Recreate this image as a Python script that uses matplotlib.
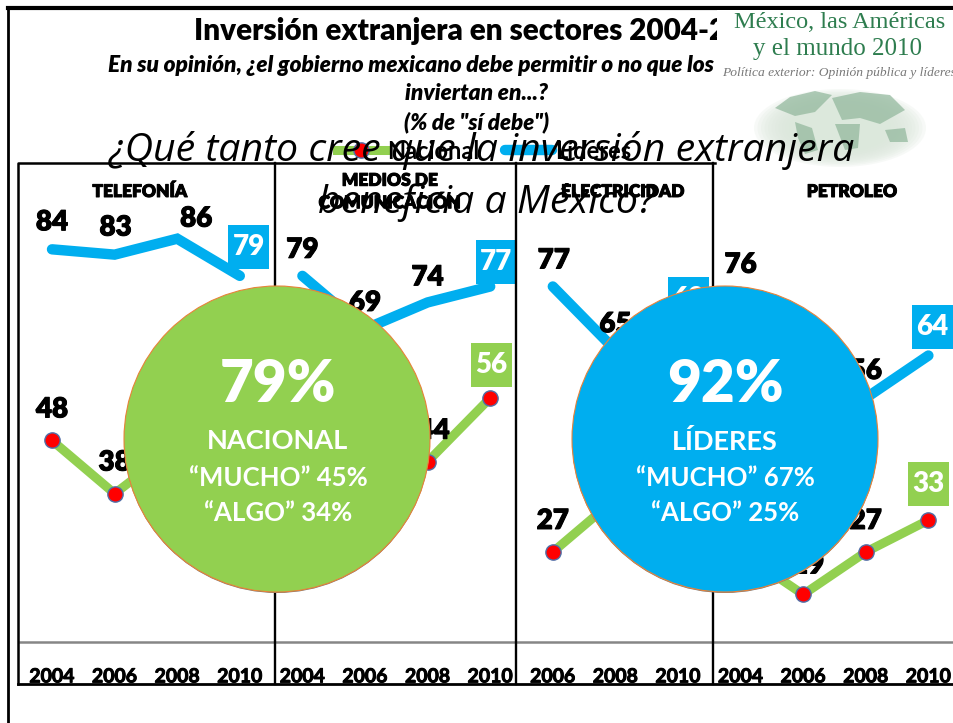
import matplotlib
matplotlib.use('Agg')
import matplotlib.pyplot as plt
import matplotlib.patheffects as pe
from matplotlib.patches import Circle, Ellipse, Polygon, Rectangle
from matplotlib.transforms import IdentityTransform

# values, the ones behind the circles are estimates
years = ['2004','2006','2008','2010','2004','2006','2008','2010','2006','2008','2010','2004','2006','2008','2010']
panel_idx = [[0,1,2,3],[4,5,6,7],[8,9,10],[11,12,13,14]]
panel_names = ['TELEFONÍA','MEDIOS DE\nCOMUNICACIÓN','ELECTRICIDAD','PETROLEO']
lideres = [[84,83,86,79],[79,69,74,77],[77,65,69],[76,62,56,64]]
nacional = [[48,38,47,44],[37,33,44,56],[27,37,36],[27,19,27,33]]

# label offsets in pixels (dx, dy, y down), last label of each series sits in a box
lid_off = [[(0,-27),(1,-27),(19,-20),(9,-29)],[(0,-26),(0,-26),(0,-25),(6,-24)],[(1,-26),(0,-26),(10,-30)],[(0,-27),(0,-27),(0,-27),(4,-29)]]
nac_off = [[(0,-31),(0,-31),(0,-26),(0,-26)],[(0,-26),(0,-26),(6,-31),(1,-33)],[(0,-31),(0,-26),(0,-26)],[(0,-26),(5,-29),(0,-31),(0,-36)]]

BLUE = '#00AEEF'
GREEN = '#92D050'
W, H = 954, 723
thick = [pe.withStroke(linewidth=0.7, foreground='black')]

plt.rcParams['font.family'] = ['Lato', 'DejaVu Sans']
fig = plt.figure(figsize=(W/100, H/100), dpi=100, facecolor='white')

# chart axes, 1 category = 62.6 px, 1 unit = 5.31 px
ax = fig.add_axes([20/W, (H-642)/H, (W-20)/W, (642-163)/H])
ax.set_xlim((20-52)/62.6, (W-52)/62.6)
ax.set_ylim(10.05, 10.05+(642-163)/5.31)
ax.patch.set_alpha(0)
for s in ['top','left','right']:
    ax.spines[s].set_visible(False)
ax.spines['bottom'].set_color('#868686')
ax.spines['bottom'].set_linewidth(1.8)
ax.set_yticks([])
ax.set_xticks(range(len(years)))
ax.set_xticklabels(years, fontsize=14, fontweight='bold', color='black', path_effects=thick)
ax.tick_params(axis='x', length=0, pad=19)


def add_labels(xs, vals, offs, box):
    for i, (x, v, o) in enumerate(zip(xs, vals, offs)):
        last = i == len(vals)-1
        if last:
            px, py = ax.transData.transform((x, v))
            ax.add_patch(Rectangle((px+o[0]-20.5, py-o[1]-22), 41, 44, fc=box, ec='none', zorder=5,
                                   transform=IdentityTransform(), clip_on=False))
        ax.annotate(str(v), (x, v), xytext=(o[0]*0.72, -o[1]*0.72), textcoords='offset points',
                    ha='center', va='center', fontsize=20, fontweight='heavy', color='white' if last else 'black',
                    zorder=6, annotation_clip=False, path_effects=None if last else thick)


for p, xs in enumerate(panel_idx):
    ax.plot(xs, lideres[p], color=BLUE, lw=7.5, solid_capstyle='round', solid_joinstyle='miter', zorder=3,
            label='Líderes' if p == 0 else None, clip_on=False)
    ax.plot(xs, nacional[p], color=GREEN, lw=6.5, marker='o', ms=11, mfc='#FF0000', mec='#4F6FA8', mew=1, zorder=4,
            label='Nacional' if p == 0 else None, clip_on=False)
    add_labels(xs, lideres[p], lid_off[p], BLUE)
    add_labels(xs, nacional[p], nac_off[p], GREEN)

h, l = ax.get_legend_handles_labels()
ax.legend(h[::-1], l[::-1], ncols=2, frameon=False, loc='center', bbox_to_anchor=(0.497, 1.025),
          prop=dict(weight='bold', size=17), handlelength=2.0, columnspacing=1.1, handletextpad=0.1)

# overlay in pixels for frames, logo, circles and the slide text
ov = fig.add_axes([0, 0, 1, 1])
ov.set_xlim(0, W)
ov.set_ylim(H, 0)
ov.axis('off')
ov.patch.set_alpha(0)

ov.plot([8, 8], [8, H], color='black', lw=2, zorder=1)
ov.plot([8, W], [8, 8], color='black', lw=3, zorder=1)
ov.plot([18, 18, 715], [684, 163, 163], color='black', lw=1.8, zorder=1)
ov.plot([18, W], [684, 684], color='black', lw=2, zorder=1)
for x in [275, 516, 713]:
    ov.plot([x, x], [163, 684], color='black', lw=1.7, zorder=1)

ov.text(194, 31, 'Inversión extranjera en sectores 2004-2010', fontsize=21.3, fontweight='heavy', va='center', ha='left', zorder=2)
ov.text(108, 66, 'En su opinión, ¿el gobierno mexicano debe permitir o no que los extranjeros',
        fontsize=16.3, fontweight='heavy', style='italic', va='center', ha='left', zorder=2)
ov.text(477, 94, 'inviertan en...?', fontsize=16.3, fontweight='heavy', style='italic', va='center', ha='center', zorder=2)
ov.text(477, 122, '(% de "sí debe")', fontsize=16, fontweight='heavy', style='italic', va='center', ha='center', zorder=2)

centers = [140, 390, 623, 852]
for name, cx in zip(panel_names, centers):
    ov.text(cx, 192, name, fontsize=12.5, fontweight='heavy', ha='center', va='center', linespacing=1.5, zorder=2,
            path_effects=thick)

# logo block
ov.add_patch(Rectangle((717, 10), W-717, 153, fc='white', ec='none', zorder=3))
ov.text(840, 22, 'México, las Américas', family='Liberation Serif', fontsize=17.5, color='#2E7D4F', ha='center', va='center', zorder=4)
ov.text(838, 49, 'y el mundo 2010', family='Liberation Serif', fontsize=18, color='#2E7D4F', ha='center', va='center', zorder=4)
ov.text(722, 73, 'Política exterior: Opinión pública y líderes', family='Liberation Serif', style='italic', fontsize=9.7,
        color='#777777', ha='left', va='center', zorder=4, clip_on=True)
for k in range(12):
    ov.add_patch(Ellipse((840, 128), 172-7*k, 78-3*k, fc='#DCE8DC', ec='none', alpha=0.22, zorder=4))
land = [[(775,108),(790,97),(815,91),(832,95),(815,112),(795,116)],
        [(795,122),(812,128),(818,150),(805,154),(798,138)],
        [(832,98),(860,92),(890,95),(905,110),(880,124),(860,118),(842,120)],
        [(835,124),(860,124),(858,148),(845,150)],
        [(885,130),(905,128),(908,142),(890,142)]]
for pts in land:
    ov.add_patch(Polygon(pts, closed=True, fc='#8FB69A', ec='none', alpha=0.7, zorder=4))

# big circles
circles = [(277, 439, GREEN), (725, 439, BLUE)]
for cx, cy, c in circles:
    ov.add_patch(Circle((cx, cy+1), 153, fc='#777777', ec='none', zorder=5))
    ov.add_patch(Circle((cx, cy), 153, fc=c, ec='#E8833A', lw=0.8, zorder=6))

c_texts = [(278, '79%', 'NACIONAL', '“MUCHO” 45%', '“ALGO” 34%'), (725, '92%', 'LÍDERES', '“MUCHO” 67%', '“ALGO” 25%')]
for cx, big, name, t1, t2 in c_texts:
    ov.text(cx, 384, big, fontsize=42, fontweight='heavy', color='white', ha='center', va='center', zorder=7)
    ov.text(cx, 441, name, fontsize=19.5, fontweight='bold', color='white', ha='center', va='center', zorder=7)
    ov.text(cx, 478, t1, fontsize=18.5, fontweight='bold', color='white', ha='center', va='center', zorder=7)
    ov.text(cx, 513, t2, fontsize=18.5, fontweight='bold', color='white', ha='center', va='center', zorder=7)

ov.text(482, 151, '¿Qué tanto cree que la inversión extranjera', family='Open Sans', style='italic', fontsize=28.3,
        color='black', ha='center', va='center', zorder=8)
ov.text(486, 203, 'beneficia a México?', family='Open Sans', style='italic', fontsize=28.3,
        color='black', ha='center', va='center', zorder=8)

fig.savefig('out.png', dpi=100)
